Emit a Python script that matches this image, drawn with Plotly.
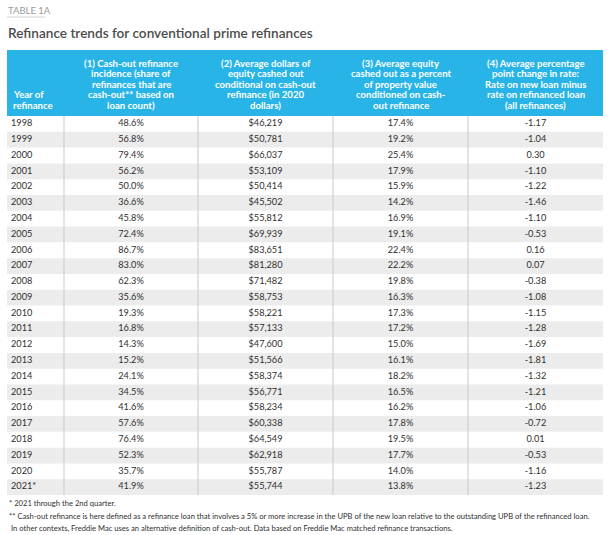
import plotly.graph_objects as go

W, H = 610, 535

years = ["1998","1999","2000","2001","2002","2003","2004","2005","2006","2007","2008","2009",
         "2010","2011","2012","2013","2014","2015","2016","2017","2018","2019","2020","2021*"]
cashout_incidence = ["48.6%","56.8%","79.4%","56.2%","50.0%","36.6%","45.8%","72.4%","86.7%","83.0%","62.3%","35.6%",
                     "19.3%","16.8%","14.3%","15.2%","24.1%","34.5%","41.6%","57.6%","76.4%","52.3%","35.7%","41.9%"]
avg_dollars = ["$46,219","$50,781","$66,037","$53,109","$50,414","$45,502","$55,812","$69,939","$83,651","$81,280","$71,482","$58,753",
               "$58,221","$57,133","$47,600","$51,566","$58,374","$56,771","$58,234","$60,338","$64,549","$62,918","$55,787","$55,744"]
avg_equity_pct = ["17.4%","19.2%","25.4%","17.9%","15.9%","14.2%","16.9%","19.1%","22.4%","22.2%","19.8%","16.3%",
                  "17.3%","17.2%","15.0%","16.1%","18.2%","16.5%","16.2%","17.8%","19.5%","17.7%","14.0%","13.8%"]
rate_change = ["-1.17","-1.04","0.30","-1.10","-1.22","-1.46","-1.10","-0.53","0.16","0.07","-0.38","-1.08",
               "-1.15","-1.28","-1.69","-1.81","-1.32","-1.21","-1.06","-0.72","0.01","-0.53","-1.16","-1.23"]

headers = [
    ["Year of", "refinance"],
    ["(1) Cash-out refinance", "incidence (share of", "refinances that are", "cash-out** based on", "loan count)"],
    ["(2) Average dollars of", "equity cashed out", "conditional on cash-out", "refinance (in 2020", "dollars)"],
    ["(3) Average equity", "cashed out as a percent", "of property value", "conditioned on cash-", "out refinance"],
    ["(4) Average percentage", "point change in rate:", "Rate on new loan minus", "rate on refinanced loan", "(all refinances)"],
]
footnotes = [
    "* 2021 through the 2nd quarter.",
    "** Cash-out refinance is here defined as a refinance loan that involves a 5% or more increase in the UPB of the new loan relative to the outstanding UPB of the refinanced loan.",
    " In other contexts, Freddie Mac uses an alternative definition of cash-out. Data based on Freddie Mac matched refinance transactions.",
]

FONT = "Lato"
BLUE = "#29b4e8"
BAND = "#ececec"
TXT = "#2f2f2f"

def py(y):
    return 1 - y / H

left, right = 7, 603
hdr_top, hdr_bot = 50, 116
body_bot = 495
col_edges = [left, 64, 198, 333, 468, right]
col_centers = [(col_edges[i] + col_edges[i + 1]) / 2 for i in range(5)]

fig = go.Figure()

fig.add_trace(go.Scatter(x=[11] * len(years), y=years, mode="text", text=years,
                         textposition="middle right",
                         textfont=dict(family=FONT, size=9.2, color=TXT), hoverinfo="skip"))
for ci, col in enumerate([cashout_incidence, avg_dollars, avg_equity_pct, rate_change], start=1):
    fig.add_trace(go.Scatter(x=[col_centers[ci]] * len(col), y=years, mode="text", text=col,
                             textposition="middle center",
                             textfont=dict(family=FONT, size=9.2, color=TXT), hoverinfo="skip"))

shapes = []
for i, yv in enumerate(years):
    if i % 2 == 1:
        shapes.append(dict(type="rect", xref="x", yref="y", x0=left, x1=right, y0=i - 0.5, y1=i + 0.5,
                           fillcolor=BAND, line=dict(width=0), layer="below"))
for xe in col_edges[1:-1]:
    shapes.append(dict(type="line", xref="x", yref="paper", x0=xe, x1=xe, y0=py(hdr_bot), y1=py(body_bot),
                       line=dict(color="#c9c9c9", width=1), layer="above"))
shapes.append(dict(type="rect", xref="x", yref="paper", x0=left, x1=right, y0=py(hdr_bot), y1=py(hdr_top),
                   fillcolor=BLUE, line=dict(width=0), layer="below"))
shapes.append(dict(type="line", xref="x", yref="paper", x0=7, x1=45, y0=py(17), y1=py(17),
                   line=dict(color="#d5d5d5", width=1)))

annotations = []
annotations.append(dict(text="TABLE 1A", xref="x", yref="paper", x=6, y=py(10), xanchor="left",
                        yanchor="middle", showarrow=False,
                        font=dict(family=FONT, size=9.5, color="#9a9a9a")))
annotations.append(dict(text="Refinance trends for conventional prime refinances", xref="x", yref="paper",
                        x=6, y=py(33), xanchor="left", yanchor="middle", showarrow=False,
                        font=dict(family=FONT, size=13.6, color="#4d4d4d", weight=600)))
line_gap = 10.4
last_line_y = 105
for i, lines in enumerate(headers):
    n = len(lines)
    for j, ln in enumerate(lines):
        yy = last_line_y - (n - 1 - j) * line_gap
        if i == 0:
            annotations.append(dict(text="<b>" + ln + "</b>", xref="x", yref="paper", x=11, y=py(yy),
                                    xanchor="left", yanchor="middle", showarrow=False,
                                    font=dict(family=FONT, size=9.6, color="white")))
        else:
            annotations.append(dict(text="<b>" + ln + "</b>", xref="x", yref="paper", x=col_centers[i],
                                    y=py(yy), xanchor="center", yanchor="middle", showarrow=False,
                                    font=dict(family=FONT, size=9.6, color="white")))
for f, yy in zip(footnotes, [503, 516, 528]):
    annotations.append(dict(text=f, xref="x", yref="paper", x=7, y=py(yy), xanchor="left", yanchor="middle",
                            showarrow=False, font=dict(family=FONT, size=7.6, color=TXT)))

fig.update_layout(
    width=W, height=H, margin=dict(l=0, r=0, t=0, b=0),
    paper_bgcolor="white", plot_bgcolor="white", showlegend=False,
    xaxis=dict(range=[0, W], visible=False, fixedrange=True),
    yaxis=dict(type="category", categoryorder="array", categoryarray=years,
               range=[len(years) - 0.5, -0.5], domain=[py(body_bot), py(hdr_bot)],
               visible=False, fixedrange=True),
    shapes=shapes, annotations=annotations,
)

fig.write_html("out.html", config={"displayModeBar": False},
               post_script="document.body.style.margin='0px';document.body.style.overflow='hidden';")
